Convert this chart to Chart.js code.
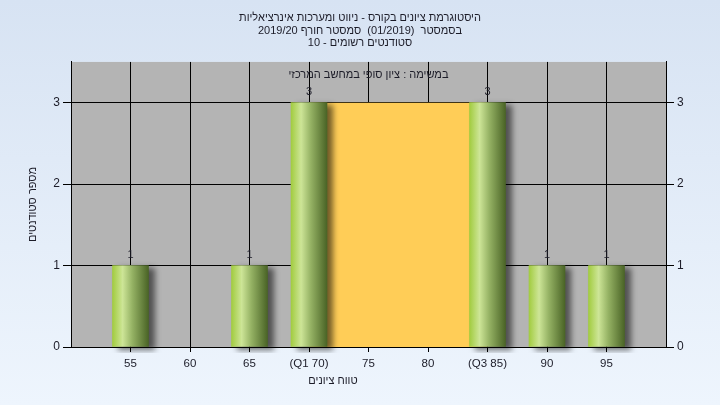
<!DOCTYPE html>
<html>
<head>
<meta charset="utf-8">
<title>היסטוגרמת ציונים</title>
<script src="https://cdn.jsdelivr.net/npm/chart.js@4/dist/chart.umd.min.js"></script>
<style>
    html, body { margin: 0; padding: 0; }
    body {
        width: 720px;
        height: 405px;
        overflow: hidden;
        background: linear-gradient(#d7e3f3, #eef5fd);
    }
    .chart-container { position: relative; width: 720px; height: 405px; }
</style>
</head>
<body>
<div class="chart-container">
    <canvas id="gradesChart" dir="rtl"></canvas>
</div>
<script>
// Texts
const titleLines = [
    'היסטוגרמת ציונים בקורס - ניווט ומערכות אינרציאליות',
    'בסמסטר  (01/2019)  סמסטר חורף 2019/20',
    'סטודנטים רשומים - 10'
];
const taskLabel = 'במשימה : ציון סופי במחשב המרכזי';
const xAxisTitle = 'טווח ציונים';
const yAxisTitle = 'מספר סטודנטים';

// Data
const grades = [55, 65, 70, 85, 90, 95];
const counts = [1, 1, 3, 3, 1, 1];
const quartiles = [70, 85];
const quartileHeight = 3;

// Tick labels
const gradeTicks = [55, 60, 65, 70, 75, 80, 85, 90, 95];
const gradeTickLabels = ['55', '60', '65', '(Q1 70)', '75', '80', '(Q3 85)', '90', '95'];
const countTicks = [0, 1, 2, 3];

const FONT = '"Liberation Sans", "DejaVu Sans", Arial, sans-serif';
const TEXT_COLOR = '#1c1c28';

document.addEventListener('DOMContentLoaded', () => {
    renderChart();
});

/**
 * Cylinder-like gradient for each bar
 */
function barGradient(context) {
    const chart = context.chart;
    if (!chart.chartArea || !context.raw) {
        return '#9cc045';
    }
    const x = chart.scales.x.getPixelForValue(context.raw.x);
    const g = chart.ctx.createLinearGradient(x - 18, 0, x + 18, 0);
    g.addColorStop(0, '#a2cc40');
    g.addColorStop(0.28, '#cde597');
    g.addColorStop(0.55, '#95b264');
    g.addColorStop(1, '#4a6426');
    return g;
}

// Plot background, bar shadows and extra labels
const plotDecor = {
    id: 'plotDecor',
    beforeDraw(chart) {
        const { ctx, chartArea } = chart;
        ctx.save();
        ctx.fillStyle = '#b4b4b4';
        ctx.fillRect(chartArea.left, chartArea.top, chartArea.right - chartArea.left, chartArea.bottom - chartArea.top);
        ctx.restore();
    },
    beforeDatasetDraw(chart, args) {
        if (args.meta.type !== 'bar') return;
        const ctx = chart.ctx;
        ctx.save();
        ctx.shadowColor = 'rgba(0, 0, 0, 0.55)';
        ctx.shadowBlur = 6;
        ctx.shadowOffsetX = 6;
        ctx.shadowOffsetY = 3;
    },
    afterDatasetDraw(chart, args) {
        if (args.meta.type !== 'bar') return;
        chart.ctx.restore();
    },
    afterDatasetsDraw(chart) {
        const { ctx, chartArea } = chart;
        ctx.save();
        ctx.direction = 'rtl';
        ctx.fillStyle = TEXT_COLOR;
        ctx.textAlign = 'center';

        // value labels above the bars
        const meta = chart.getDatasetMeta(1);
        ctx.font = '11px ' + FONT;
        ctx.textBaseline = 'bottom';
        meta.data.forEach((bar, i) => {
            ctx.fillText(String(counts[i]), bar.x, bar.y - 5);
        });

        // task label inside the plot
        ctx.font = '11px ' + FONT;
        ctx.textBaseline = 'middle';
        ctx.fillText(taskLabel, (chartArea.left + chartArea.right) / 2, chartArea.top + 13);

        // x axis title
        ctx.fillText(xAxisTitle, 333, 381);
        ctx.restore();
    }
};

function renderChart() {
    const ctx = document.getElementById('gradesChart').getContext('2d');

    new Chart(ctx, {
        data: {
            datasets: [
                {
                    type: 'line',
                    label: 'Q1-Q3',
                    data: quartiles.map(q => ({ x: q, y: quartileHeight })),
                    backgroundColor: '#ffcd57',
                    borderWidth: 0,
                    pointRadius: 0,
                    fill: 'origin',
                    order: 2
                },
                {
                    type: 'bar',
                    label: 'students',
                    data: grades.map((g, i) => ({ x: g, y: counts[i] })),
                    backgroundColor: barGradient,
                    borderWidth: 0,
                    barThickness: 36,
                    grouped: false,
                    clip: { left: 0, top: 0, right: 0, bottom: 6 },
                    order: 1
                }
            ]
        },
        options: {
            responsive: true,
            maintainAspectRatio: false,
            devicePixelRatio: 1,
            animation: false,
            layout: { padding: 0 },
            plugins: {
                legend: { display: false },
                tooltip: { enabled: false },
                title: {
                    display: true,
                    text: titleLines,
                    color: TEXT_COLOR,
                    font: { family: FONT, size: 11, weight: 'normal', lineHeight: 1.18 },
                    padding: { top: 11, bottom: 12 }
                }
            },
            scales: {
                x: {
                    type: 'linear',
                    position: 'bottom',
                    offset: false,
                    min: 50,
                    max: 100,
                    afterBuildTicks: scale => { scale.ticks = gradeTicks.map(v => ({ value: v })); },
                    afterFit: scale => { scale.height = 58; },
                    ticks: {
                        autoSkip: false,
                        maxRotation: 0,
                        padding: 5,
                        color: TEXT_COLOR,
                        font: { family: FONT, size: 11.5 },
                        callback: value => gradeTickLabels[gradeTicks.indexOf(value)]
                    },
                    grid: { offset: false, color: '#000', lineWidth: 1, tickLength: 5 },
                    border: { color: '#000', width: 1 }
                },
                y: {
                    type: 'linear',
                    position: 'left',
                    min: 0,
                    max: 3.5,
                    afterBuildTicks: scale => { scale.ticks = countTicks.map(v => ({ value: v })); },
                    afterFit: scale => { scale.width = 71; },
                    ticks: {
                        padding: 3,
                        color: TEXT_COLOR,
                        font: { family: FONT, size: 12 }
                    },
                    grid: { color: '#000', lineWidth: 1, tickLength: 8 },
                    border: { color: '#000', width: 1 },
                    title: {
                        display: true,
                        text: yAxisTitle,
                        color: TEXT_COLOR,
                        font: { family: FONT, size: 11 },
                        padding: { top: 26, bottom: 0 }
                    }
                },
                y2: {
                    type: 'linear',
                    position: 'right',
                    min: 0,
                    max: 3.5,
                    afterBuildTicks: scale => { scale.ticks = countTicks.map(v => ({ value: v })); },
                    afterFit: scale => { scale.width = 54; },
                    ticks: {
                        padding: 3,
                        color: TEXT_COLOR,
                        font: { family: FONT, size: 12 }
                    },
                    grid: { drawOnChartArea: false, color: '#000', tickLength: 8 },
                    border: { color: '#000', width: 1 }
                }
            }
        },
        plugins: [plotDecor]
    });
}
</script>
</body>
</html>
